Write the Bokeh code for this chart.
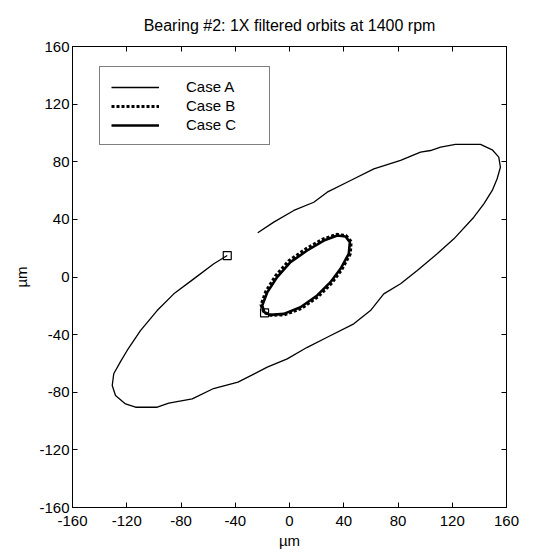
from bokeh.plotting import figure
from bokeh.models import Range1d, FixedTicker, LinearAxis, Legend, LegendItem, CustomJSTickFormatter
from bokeh.embed import file_html
from bokeh.resources import INLINE

# ---- data (µm) ----
case_a_x = [-45.9, -55.8, -70.6, -85.3, -97.6, -109.9, -119.7, -124.6, -129.6, -130.7,
            -128.3, -120.9, -113.5, -97.5, -89.0, -71.7, -56.0, -38.0, -16.4, -1.7,
            13.1, 27.8, 47.4, 59.7, 69.5, 81.9, 94.2, 108.9, 121.2, 135.9,
            143.3, 149.5, 153.1, 155.5, 154.3, 149.5, 140.8, 122.4, 111.4, 104.0,
            96.6, 81.9, 62.2, 45.0, 27.8, 17.9, 3.2, -11.6, -23.4]
case_a_y = [14.9, 9.2, -1.3, -11.7, -23.3, -37.2, -51.0, -58.7, -67.2, -75.3,
            -82.3, -88.1, -90.4, -90.4, -87.5, -84.6, -77.4, -73.0, -62.6, -56.8,
            -48.8, -41.8, -32.5, -23.3, -11.7, -4.7, 4.5, 16.1, 26.5, 41.5,
            50.8, 60.1, 68.2, 76.2, 83.2, 88.3, 92.0, 92.0, 90.1, 87.8,
            86.7, 80.9, 75.1, 67.0, 58.9, 51.9, 46.2, 38.1, 30.7]

case_b_x = [-18.9, -21.0, -17.5, -10.3, -0.5, 12.0, 24.6, 34.9, 41.6, 45.5,
            44.8, 38.6, 31.1, 21.2, 8.8, -3.8, -13.8, -18.9]
case_b_y = [-24.5, -19.4, -10.0, 0.8, 11.3, 19.5, 26.3, 29.6, 28.8, 24.6,
            16.0, 5.2, -4.3, -13.6, -21.8, -26.3, -26.6, -24.5]

case_c_x = [-18.4, -20.1, -16.4, -9.1, 0.7, 13.0, 25.3, 35.2, 41.3, 44.5,
            43.7, 37.6, 30.2, 20.4, 8.1, -4.2, -14.0, -18.4]
case_c_y = [-24.9, -19.8, -10.6, -0.1, 10.3, 18.4, 25.3, 28.8, 28.1, 24.2,
            16.1, 5.7, -3.6, -12.8, -21.0, -25.6, -26.3, -24.9]

start_x = [case_a_x[0], case_c_x[0]]
start_y = [case_a_y[0], case_c_y[0]]

ticks = [-160, -120, -80, -40, 0, 40, 80, 120, 160]
labels = ["Case A", "Case B", "Case C"]
title_text = "Bearing #2: 1X filtered orbits at 1400 rpm"
unit = "µm"

FONT = "Liberation Sans"
FS = "15px"

p = figure(width=553, height=552, output_backend="svg", toolbar_location=None,
           x_range=Range1d(-160, 160), y_range=Range1d(-160, 160),
           min_border_left=72, min_border_right=47, min_border_top=46, min_border_bottom=45,
           background_fill_color="white", border_fill_color="white")

p.title.text = title_text
p.title.text_font = FONT
p.title.text_font_size = "16px"
p.title.text_font_style = "normal"
p.title.text_color = "black"
p.title.align = "center"
p.title.offset = 0
p.title.standoff = 26

p.xgrid.visible = False
p.ygrid.visible = False
p.outline_line_color = "black"
p.outline_line_width = 1

fmt = CustomJSTickFormatter(code="return tick.toFixed(0);")
blank = CustomJSTickFormatter(code="return '';")

for ax in (p.xaxis[0], p.yaxis[0]):
    ax.ticker = FixedTicker(ticks=ticks)
    ax.formatter = fmt
    ax.major_tick_in = 5
    ax.major_tick_out = 0
    ax.minor_tick_in = 0
    ax.minor_tick_out = 0
    ax.axis_line_color = "black"
    ax.major_tick_line_color = "black"
    ax.major_label_text_font = FONT
    ax.major_label_text_font_size = FS
    ax.major_label_text_color = "black"
    ax.axis_label = unit
    ax.axis_label_text_font = FONT
    ax.axis_label_text_font_size = FS
    ax.axis_label_text_font_style = "normal"
    ax.axis_label_text_color = "black"

p.xaxis[0].major_label_standoff = 8
p.xaxis[0].axis_label_standoff = 3
p.yaxis[0].major_label_standoff = 3
p.yaxis[0].axis_label_standoff = 6

for loc in ("right", "above"):
    ax = LinearAxis(ticker=FixedTicker(ticks=ticks), formatter=blank)
    ax.major_tick_in = 5
    ax.major_tick_out = 0
    ax.minor_tick_in = 0
    ax.minor_tick_out = 0
    ax.major_label_text_font_size = "1px"
    ax.major_label_standoff = 0
    ax.axis_line_color = "black"
    ax.major_tick_line_color = "black"
    p.add_layout(ax, loc)

ra = p.line(case_a_x, case_a_y, line_color="black", line_width=1.3)
rc = p.line(case_c_x, case_c_y, line_color="black", line_width=2.6)
rb = p.line(case_b_x, case_b_y, line_color="black", line_width=3, line_dash="3 2")
p.scatter(start_x, start_y, marker="square", size=8, fill_color=None,
          line_color="black", line_width=1.2)

legend = Legend(items=[LegendItem(label=labels[0], renderers=[ra]),
                       LegendItem(label=labels[1], renderers=[rb]),
                       LegendItem(label=labels[2], renderers=[rc])],
                location=(27, 362))
legend.glyph_width = 48
legend.glyph_height = 16
legend.label_height = 16
legend.label_width = 72
legend.label_standoff = 27
legend.spacing = 2
legend.padding = 11
legend.margin = 0
legend.border_line_color = "black"
legend.border_line_width = 1
legend.background_fill_color = "white"
legend.background_fill_alpha = 1
legend.label_text_font = FONT
legend.label_text_font_size = FS
legend.label_text_color = "black"
p.add_layout(legend)

open("out.html", "w").write(file_html(p, INLINE))
